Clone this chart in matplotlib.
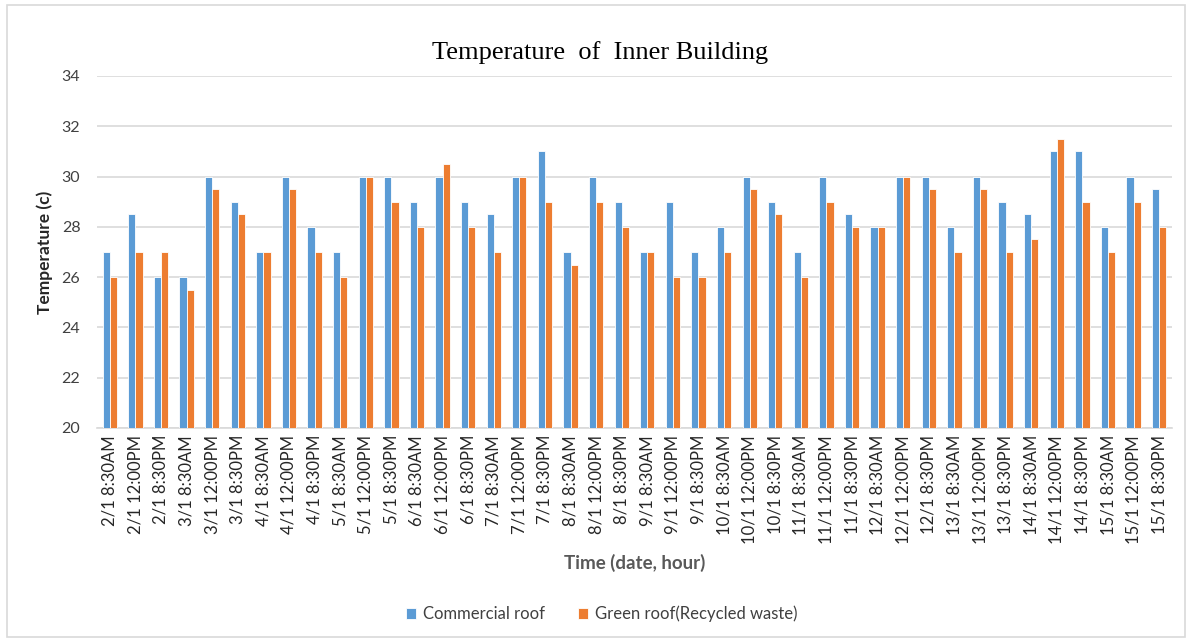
import matplotlib
matplotlib.use("Agg")
import matplotlib.pyplot as plt
import numpy as np
from matplotlib.patches import Rectangle

labels = ["2/1 8:30AM", "2/1 12:00PM", "2/1 8:30PM",
          "3/1 8:30AM", "3/1 12:00PM", "3/1 8:30PM",
          "4/1 8:30AM", "4/1 12:00PM", "4/1 8:30PM",
          "5/1 8:30AM", "5/1 12:00PM", "5/1 8:30PM",
          "6/1 8:30AM", "6/1 12:00PM", "6/1 8:30PM",
          "7/1 8:30AM", "7/1 12:00PM", "7/1 8:30PM",
          "8/1 8:30AM", "8/1 12:00PM", "8/1 8:30PM",
          "9/1 8:30AM", "9/1 12:00PM", "9/1 8:30PM",
          "10/1 8:30AM", "10/1 12:00PM", "10/1 8:30PM",
          "11/1 8:30AM", "11/1 12:00PM", "11/1 8:30PM",
          "12/1 8:30AM", "12/1 12:00PM", "12/1 8:30PM",
          "13/1 8:30AM", "13/1 12:00PM", "13/1 8:30PM",
          "14/1 8:30AM", "14/1 12:00PM", "14/1 8:30PM",
          "15/1 8:30AM", "15/1 12:00PM", "15/1 8:30PM"]

commercial = [27, 28.5, 26, 26, 30, 29, 27, 30, 28, 27, 30, 30, 29, 30, 29,
              28.5, 30, 31, 27, 30, 29, 27, 29, 27, 28, 30, 29, 27, 30, 28.5,
              28, 30, 30, 28, 30, 29, 28.5, 31, 31, 28, 30, 29.5]
green = [26, 27, 27, 25.5, 29.5, 28.5, 27, 29.5, 27, 26, 30, 29, 28, 30.5, 28,
         27, 30, 29, 26.5, 29, 28, 27, 26, 26, 27, 29.5, 28.5, 26, 29, 28,
         28, 30, 29.5, 27, 29.5, 27, 27.5, 31.5, 29, 27, 29, 28]

plt.rcParams['font.family'] = ['Lato', 'DejaVu Sans']

W, H = 1194, 642
fig = plt.figure(figsize=(W / 100, H / 100), dpi=100)
fig.patches.append(Rectangle((7 / W, 5 / H), (1185 - 7) / W, (637 - 5) / H,
                             transform=fig.transFigure, fill=False,
                             edgecolor='#d9d9d9', linewidth=1.2))

ax = fig.add_axes([97 / W, 1 - 428 / H, (1172 - 97) / W, (428 - 76) / H])
x = np.arange(len(labels))
bw = 0.28
ax.bar(x - bw / 2, commercial, bw, color='#5B9BD5', edgecolor='white',
       linewidth=0.6, label='Commercial roof', zorder=3)
ax.bar(x + bw / 2, green, bw, color='#ED7D31', edgecolor='white',
       linewidth=0.6, label='Green roof(Recycled waste)', zorder=3)

ax.set_ylim(20, 34)
ax.set_yticks(np.arange(20, 35, 2))
ax.set_xlim(-0.5, len(labels) - 0.5)
ax.set_xticks(x)
ax.set_xticklabels(labels, rotation=90, fontsize=12, color='#262626')
ax.tick_params(axis='y', labelsize=11.5, colors='#404040', length=0, pad=12)
ax.tick_params(axis='x', length=0, pad=5)
ax.grid(axis='y', color='#d9d9d9', linewidth=1.2, zorder=0)
for s in ['top', 'right', 'left']:
    ax.spines[s].set_visible(False)
ax.spines['bottom'].set_color('#d9d9d9')
ax.spines['bottom'].set_linewidth(1.2)

ax.set_ylabel('Temperature (c)', fontsize=12.5, fontweight='bold',
              color='#262626', labelpad=6)
fig.text(0.5 * (97 + 1172) / W, 1 - 563 / H, 'Time (date, hour)',
         fontsize=13.5, fontweight='bold', color='#595959',
         ha='center', va='center')
fig.text(600 / W, 1 - 53 / H, 'Temperature  of  Inner Building',
         fontsize=19, family='Liberation Serif', color='black',
         ha='center', va='center')

leg = fig.legend(loc='center', bbox_to_anchor=(602 / W, 1 - 614 / H), ncol=2,
                 frameon=False, fontsize=12, handlelength=0.6,
                 handleheight=0.6, columnspacing=2.0, handletextpad=0.4)
for t in leg.get_texts():
    t.set_color('#404040')

fig.savefig('out.png', dpi=100)
